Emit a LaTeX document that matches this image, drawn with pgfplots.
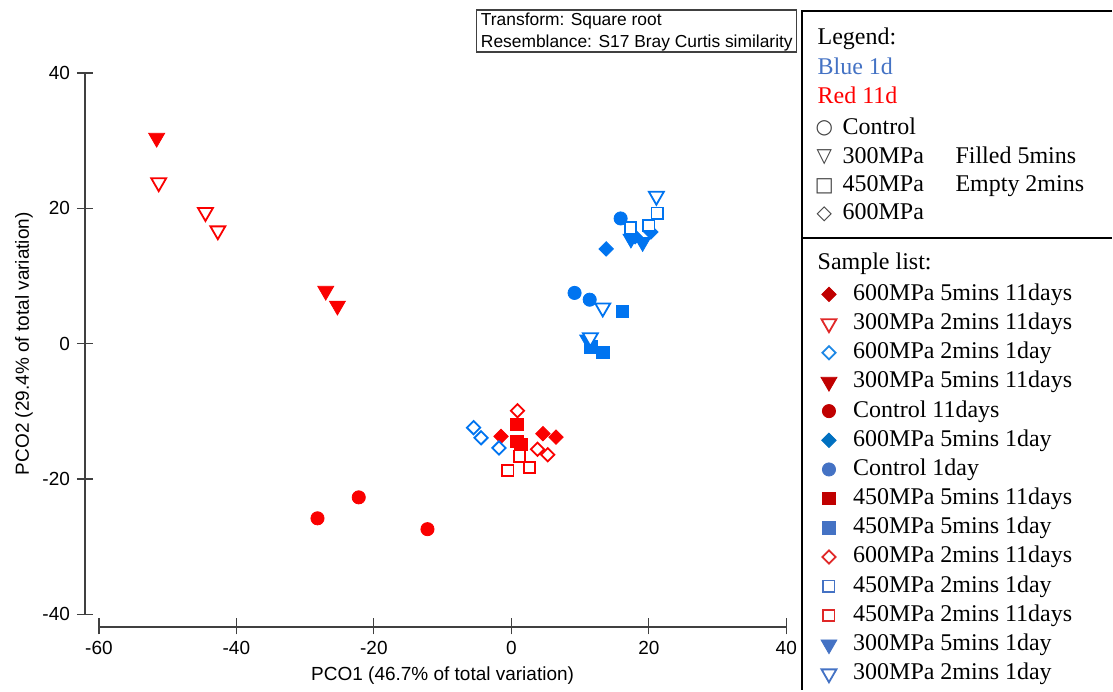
\documentclass[border=0pt]{standalone}
\usepackage{pgfplots}
\pgfplotsset{compat=1.18}
\usepackage{fontspec}
\setmainfont{Liberation Sans}
\newfontfamily\seriffont{Liberation Serif}
\newfontfamily\symfont{DejaVu Sans}
\definecolor{pred}{RGB}{250,0,0}
\definecolor{pblue}{RGB}{0,116,240}
\definecolor{ldred}{RGB}{192,0,0}
\definecolor{lred}{RGB}{224,40,40}
\definecolor{lsteel}{RGB}{68,114,196}
\definecolor{lblue}{RGB}{0,112,192}
\definecolor{lblue2}{RGB}{30,136,229}
\definecolor{axgray}{RGB}{64,64,64}
\begin{document}
\begin{tikzpicture}[x=1pt,y=1pt]
\path (0,0) rectangle (556.5,345.5);
\begin{axis}[
  at={(49.5pt,38pt)}, anchor=south west,
  scale only axis, width=344pt, height=271pt,
  xmin=-60, xmax=40, ymin=-40, ymax=40,
  axis x line*=bottom, axis y line*=left,
  axis x line shift=6pt, axis y line shift=7pt,
  axis line style={-, draw=axgray, line width=0.7pt},
  xtick={-60,-40,-20,0,20,40}, xticklabels={-60,-40,-20,0,20,40},
  ytick={-40,-20,0,20,40}, yticklabels={-40,-20,0,20,40},
  tick align=center, major tick length=8pt,
  tick style={draw=axgray, line width=0.6pt},
  ticklabel style={font=\fontsize{9.5}{11}\selectfont},
  clip=false,
  legend style={
    at={(1.0505,0.615)}, anchor=north west,
    draw=none, fill=none, inner sep=0pt, outer sep=0pt,
    font=\seriffont\fontsize{12}{14}\selectfont,
    row sep=1.6pt,
    nodes={inner sep=1pt, text height=8.5pt, text depth=2.5pt},
  },
  legend cell align=left,
  legend image code/.code={\draw[mark repeat=2,mark phase=2,#1] plot coordinates {(0pt,0pt) (5.7pt,0pt) (11.4pt,0pt)}; \path (16.4pt,0pt);},
]
% 1 600MPa 5mins 11days
\addplot[only marks, mark=square*, mark size=2.55pt, color=pred, line width=0.4pt, mark options={rotate=45}, legend image post style={color=ldred}] coordinates {(-1.5,-13.7) (4.6,-13.3) (6.5,-13.8)};
\addlegendentry{600MPa 5mins 11days}
% 2 300MPa 2mins 11days
\addplot[only marks, mark=triangle*, mark size=4.3pt, color=pred, line width=0.9pt, mark options={rotate=180, fill=white}, legend image post style={color=lred}] coordinates {(-51.3,23.8) (-44.5,19.4) (-42.7,16.7)};
\addlegendentry{300MPa 2mins 11days}
% 3 600MPa 2mins 1day
\addplot[only marks, mark=square*, mark size=2.35pt, color=pblue, line width=0.9pt, mark options={rotate=45, fill=white}, legend image post style={color=lblue2}] coordinates {(-5.5,-12.4) (-4.4,-13.9) (-1.8,-15.4)};
\addlegendentry{600MPa 2mins 1day}
% 4 300MPa 5mins 11days
\addplot[only marks, mark=triangle*, mark size=4.6pt, color=pred, line width=0.4pt, mark options={rotate=180}, legend image post style={color=ldred}] coordinates {(-51.6,30.4) (-27.0,7.8) (-25.3,5.6)};
\addlegendentry{300MPa 5mins 11days}
% 5 Control 11days
\addplot[only marks, mark=*, mark size=3.3pt, color=pred, line width=0.4pt, legend image post style={color=ldred}] coordinates {(-28.2,-25.8) (-22.2,-22.7) (-12.2,-27.4)};
\addlegendentry{Control 11days}
% 6 600MPa 5mins 1day
\addplot[only marks, mark=square*, mark size=2.55pt, color=pblue, line width=0.4pt, mark options={rotate=45}, legend image post style={color=lblue}] coordinates {(13.8,14.0) (18.0,15.8) (20.3,16.5)};
\addlegendentry{600MPa 5mins 1day}
% 7 Control 1day
\addplot[only marks, mark=*, mark size=3.3pt, color=pblue, line width=0.4pt, legend image post style={color=lsteel}] coordinates {(15.9,18.5) (9.2,7.5) (11.4,6.5)};
\addlegendentry{Control 1day}
% 8 450MPa 5mins 11days
\addplot[only marks, mark=square*, mark size=3.1pt, color=pred, line width=0.4pt, legend image post style={color=ldred}] coordinates {(0.8,-11.9) (0.8,-14.4) (1.4,-14.9)};
\addlegendentry{450MPa 5mins 11days}
% 9 450MPa 5mins 1day
\addplot[only marks, mark=square*, mark size=3.1pt, color=pblue, line width=0.4pt, legend image post style={color=lsteel}] coordinates {(16.2,4.8) (11.6,-0.5) (13.3,-1.3)};
\addlegendentry{450MPa 5mins 1day}
% 10 600MPa 2mins 11days
\addplot[only marks, mark=square*, mark size=2.35pt, color=pred, line width=0.9pt, mark options={rotate=45, fill=white}, legend image post style={color=lred}] coordinates {(0.9,-9.9) (3.8,-15.6) (5.3,-16.4)};
\addlegendentry{600MPa 2mins 11days}
% 11 450MPa 2mins 1day
\addplot[only marks, mark=square*, mark size=2.8pt, color=pblue, line width=0.9pt, mark options={fill=white}, legend image post style={color=lsteel}] coordinates {(21.2,19.3) (17.3,17.1) (20.0,17.5)};
\addlegendentry{450MPa 2mins 1day}
% 12 450MPa 2mins 11days
\addplot[only marks, mark=square*, mark size=2.8pt, color=pred, line width=0.9pt, mark options={fill=white}, legend image post style={color=lred}] coordinates {(1.2,-16.6) (-0.5,-18.7) (2.6,-18.3)};
\addlegendentry{450MPa 2mins 11days}
% 13 300MPa 5mins 1day
\addplot[only marks, mark=triangle*, mark size=4.6pt, color=pblue, line width=0.4pt, mark options={rotate=180}, legend image post style={color=lsteel}] coordinates {(17.4,15.5) (19.1,15.0) (11.1,0.6)};
\addlegendentry{300MPa 5mins 1day}
% 14 300MPa 2mins 1day
\addplot[only marks, mark=triangle*, mark size=4.3pt, color=pblue, line width=0.9pt, mark options={rotate=180, fill=white}, legend image post style={color=lsteel}] coordinates {(21.1,21.8) (13.3,5.3) (11.5,0.9)};
\addlegendentry{300MPa 2mins 1day}
\end{axis}
% x axis line (drawn explicitly)
\draw[draw=axgray, line width=0.8pt] (49.5,31.5) -- (393.5,31.5);
% axis titles
\node[font=\fontsize{9.5}{11}\selectfont] at (221.5,7.5) {PCO1 (46.7\% of total variation)};
\node[font=\fontsize{9.5}{11}\selectfont, rotate=90] at (12,173.5) {PCO2 (29.4\% of total variation)};
% info box
\draw[line width=0.6pt, draw=axgray] (238.5,319.5) rectangle (398.5,340.5);
\node[anchor=base west, inner sep=0pt, font=\fontsize{8.7}{10}\selectfont] at (240.5,332.5) {Transform: Square root};
\node[anchor=base west, inner sep=0pt, font=\fontsize{8.7}{10}\selectfont] at (240.5,321.5) {Resemblance: S17 Bray Curtis similarity};
% legend frames
\draw[line width=1pt] (556.5,340) -- (401.5,340) -- (401.5,0);
\draw[line width=1pt] (401.5,226.5) -- (556.5,226.5);
\begin{scope}[every node/.style={anchor=base west, inner sep=0pt, font=\seriffont\fontsize{12}{14}\selectfont}]
\node at (409,323.2) {Legend:};
\node[text=lsteel] at (409,308.2) {Blue 1d};
\node[text=red] at (409,293.5) {Red 11d};
\node at (421.5,278.2) {Control};
\node at (421.5,263.7) {300MPa};
\node at (421.5,249.5) {450MPa};
\node at (421.5,235.5) {600MPa};
\node at (478,263.7) {Filled 5mins};
\node at (478,249.5) {Empty 2mins};
\node at (409,210.65) {Sample list:};
\end{scope}
\begin{scope}[every node/.style={anchor=base, inner sep=0pt, text=axgray, font=\symfont\fontsize{10}{12}\selectfont}]
\node at (412.5,278.6) {○};
\node at (412.5,264.1) {▽};
\node at (412.5,249.9) {□};
\node at (412.5,235.9) {◇};
\end{scope}
\end{tikzpicture}
\end{document}
